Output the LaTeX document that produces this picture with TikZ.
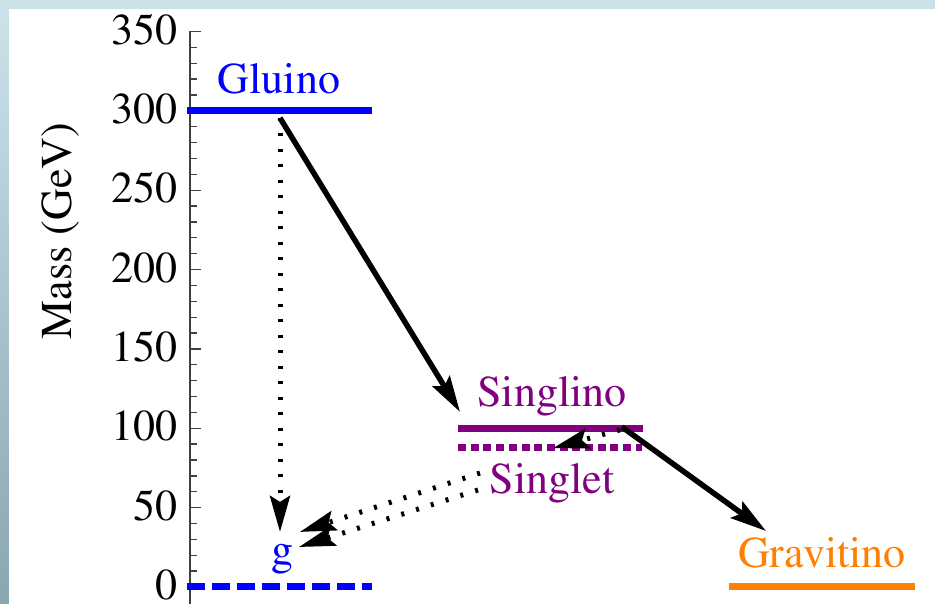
\documentclass[tikz,border=0pt]{standalone}
\usepackage[T1]{fontenc}
\usepackage{mathptmx}
\usetikzlibrary{arrows.meta,calc,positioning}
\definecolor{framelight}{RGB}{203,226,233}
\definecolor{framedark}{RGB}{138,166,176}
\definecolor{lvblue}{RGB}{0,0,255}
\definecolor{lvpurple}{RGB}{128,0,128}
\definecolor{lvorange}{RGB}{255,128,0}

\begin{document}
\begin{tikzpicture}[x=1pt, y=1pt, >={Stealth[length=36pt,width=20pt,inset=6pt]},
  font=\rmfamily\fontsize{44}{48}\selectfont,
  level/.style={line width=7pt},
  decay/.style={->, line width=5.5pt, black},
  virtual/.style={->, line width=5pt, black, dash pattern=on 3pt off 12.5pt},
  axisline/.style={line width=1.3pt, black!75}]

% ---- Frame ----
\useasboundingbox (0,0) rectangle (935,604);
\fill[framelight] (0,0) rectangle (935,604);
\shade[bottom color=framedark, top color=framelight] (0,0) rectangle (9,595);
\fill[white] (9,0) rectangle (935,595);

\node[rotate=90] (masslabel) at (61,373) {Mass (GeV)};

% ---- Mass axis (y in GeV) ----
\begin{scope}[shift={(190,17)}, y=1.5873pt]
  \draw[axisline] (0,-11) -- (0,350);
  \foreach \m in {10,20,...,340}
    \draw[axisline] (0,\m) -- (7,\m);
  \foreach \m in {0,50,...,350} {
    \draw[axisline] (0,\m) -- (11,\m);
    \node[anchor=east, inner sep=0pt, yshift=2pt] at (-12,\m) {\m};
  }

  % ---- Levels ----
  \draw[level, lvblue] (-3,300) -- (182,300);
  \node[lvblue, anchor=base] (gluino) at (89,311) {Gluino};

  \draw[level, lvblue, dash pattern=on 18pt off 7pt] (-3,0) -- (182,0);
  \node[lvblue, anchor=base] (gluon) at (92,13.9) {g};

  \draw[level, lvpurple] (268,100) -- (453,100);
  \node[lvpurple, anchor=base] (singlino) at (362,113.4) {Singlino};

  \draw[level, lvpurple, dash pattern=on 8pt off 4.7pt] (268,87.6) -- (452,87.6);
  \node[lvpurple, anchor=base] (singlet) at (362,59.2) {Singlet};

  \draw[level, lvorange] (539,0) -- (725,0);
  \node[lvorange, anchor=base] (gravitino) at (632,12) {Gravitino};

  % ---- Decay end points ----
  \coordinate (gl-out)  at (90,295.5);
  \coordinate (sn-in)   at (270,110.3);
  \coordinate (g-in)    at (90,34.7);
  \coordinate (sn-out)  at (432,100.8);
  \coordinate (gr-in)   at (576,35.3);
  \coordinate (sn-out2) at (430,99);
  \coordinate (st-in)   at (363,87.5);
  \coordinate (st-outa) at (290,71.8);
  \coordinate (g-ina)   at (110,34.7);
  \coordinate (st-outb) at (288,61.1);
  \coordinate (g-inb)   at (109,25.2);

  % ---- Decays ----
  \draw[decay] (gl-out) -- (sn-in);
  \draw[decay] (sn-out) -- (gr-in);
  \draw[virtual] (gl-out) -- (g-in);
  \draw[virtual] (sn-out2) -- (st-in);
  \draw[virtual] (st-outa) -- (g-ina);
  \draw[virtual] (st-outb) -- (g-inb);
\end{scope}

\end{tikzpicture}
\end{document}
